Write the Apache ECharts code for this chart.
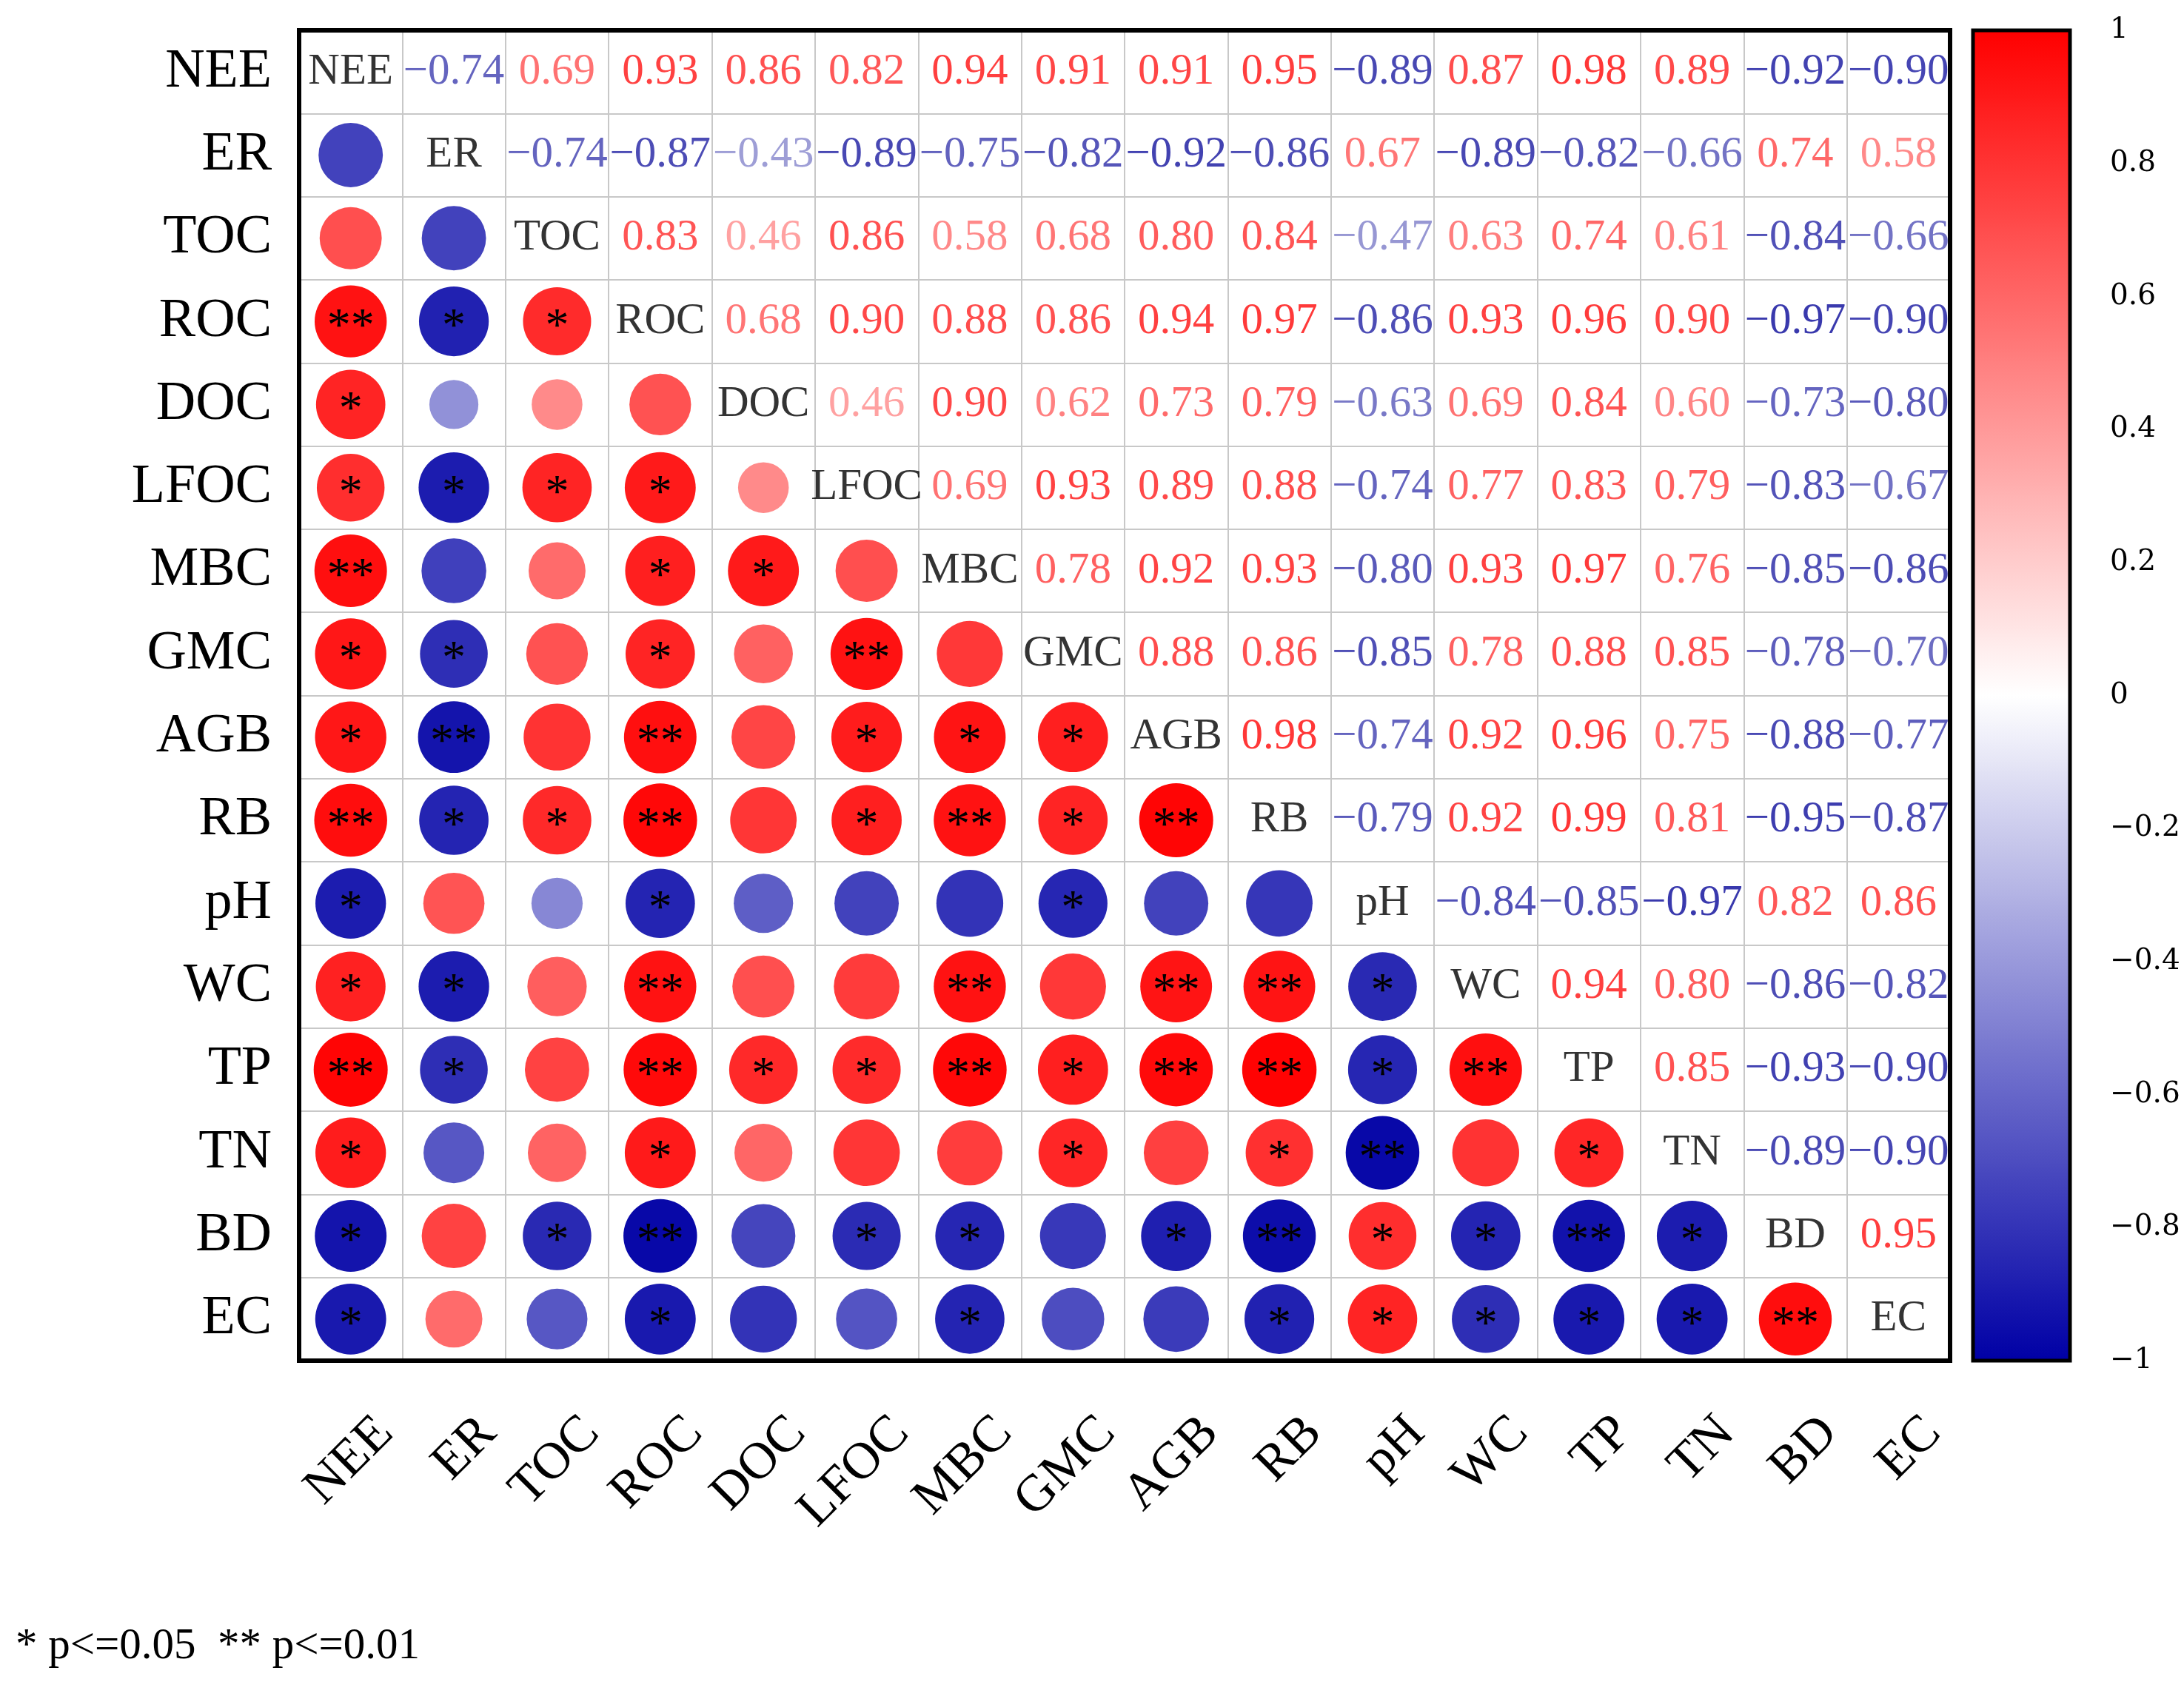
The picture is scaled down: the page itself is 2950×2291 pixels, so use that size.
<!DOCTYPE html>
<html>
<head>
<meta charset="utf-8">
<script src="https://cdn.jsdelivr.net/npm/echarts@6/dist/echarts.min.js"></script>
<style>
html,body{margin:0;padding:0;background:#fff}
#chart{width:2950px;height:2291px}
</style>
</head>
<body>
<div id="chart"></div>
<script>
// variables, in order on both axes
const vars = ['NEE','ER','TOC','ROC','DOC','LFOC','MBC','GMC','AGB','RB','pH','WC','TP','TN','BD','EC']

// upper triangle: each row gives r with the variables to its right
const rNEE  = [-0.74,0.69,0.93,0.86,0.82,0.94,0.91,0.91,0.95,-0.89,0.87,0.98,0.89,-0.92,-0.90]
const rER   = [-0.74,-0.87,-0.43,-0.89,-0.75,-0.82,-0.92,-0.86,0.67,-0.89,-0.82,-0.66,0.74,0.58]
const rTOC  = [0.83,0.46,0.86,0.58,0.68,0.80,0.84,-0.47,0.63,0.74,0.61,-0.84,-0.66]
const rROC  = [0.68,0.90,0.88,0.86,0.94,0.97,-0.86,0.93,0.96,0.90,-0.97,-0.90]
const rDOC  = [0.46,0.90,0.62,0.73,0.79,-0.63,0.69,0.84,0.60,-0.73,-0.80]
const rLFOC = [0.69,0.93,0.89,0.88,-0.74,0.77,0.83,0.79,-0.83,-0.67]
const rMBC  = [0.78,0.92,0.93,-0.80,0.93,0.97,0.76,-0.85,-0.86]
const rGMC  = [0.88,0.86,-0.85,0.78,0.88,0.85,-0.78,-0.70]
const rAGB  = [0.98,-0.74,0.92,0.96,0.75,-0.88,-0.77]
const rRB   = [-0.79,0.92,0.99,0.81,-0.95,-0.87]
const rPH   = [-0.84,-0.85,-0.97,0.82,0.86]
const rWC   = [0.94,0.80,-0.86,-0.82]
const rTP   = [0.85,-0.93,-0.90]
const rTN   = [-0.89,-0.90]
const rBD   = [0.95]
const upper = [rNEE,rER,rTOC,rROC,rDOC,rLFOC,rMBC,rGMC,rAGB,rRB,rPH,rWC,rTP,rTN,rBD]

// lower triangle significance marks, row by row (columns to the left of the diagonal)
const sNEE  = []
const sER   = ['']
const sTOC  = ['','']
const sROC  = ['**','*','*']
const sDOC  = ['*','','','']
const sLFOC = ['*','*','*','*','']
const sMBC  = ['**','','','*','*','']
const sGMC  = ['*','*','','*','','**','']
const sAGB  = ['*','**','','**','','*','*','*']
const sRB   = ['**','*','*','**','','*','**','*','**']
const sPH   = ['*','','','*','','','','*','','']
const sWC   = ['*','*','','**','','','**','','**','**','*']
const sTP   = ['**','*','','**','*','*','**','*','**','**','*','**']
const sTN   = ['*','','','*','','','','*','','*','**','','*']
const sBD   = ['*','','*','**','','*','*','','*','**','*','*','**','*']
const sEC   = ['*','','','*','','','*','','','*','*','*','*','*','**']
const stars = [sNEE,sER,sTOC,sROC,sDOC,sLFOC,sMBC,sGMC,sAGB,sRB,sPH,sWC,sTP,sTN,sBD,sEC]

const cbTicks = [-1,-0.8,-0.6,-0.4,-0.2,0,0.2,0.4,0.6,0.8,1]

const serif = '"Liberation Serif", "Times New Roman", serif'

function rOf(i, j) {
  // i row, j column, i != j
  return i < j ? upper[i][j - i - 1] : upper[j][i - j - 1]
}
function fmt(v) {
  return (v < 0 ? '\u2212' : '') + Math.abs(v).toFixed(2)
}
// text colour on the same white-centred scale as the colour bar
function textColor(v) {
  const a = Math.abs(v)
  const g = Math.round(255 * (1 - a))
  if (v >= 0) return 'rgb(255,' + g + ',' + g + ')'
  const k = Math.round(235 * (1 - a))
  const b = Math.round(245 - 95 * a)
  return 'rgb(' + k + ',' + k + ',' + b + ')'
}

let circles = []
let diag = []
let nums = []
vars.forEach((name, i) => {
  vars.forEach((n2, j) => {
    if (i === j) {
      diag.push([j, i, name])
    } else if (j > i) {
      const v = rOf(i, j)
      nums.push({ value: [j, i, v], label: { color: textColor(v) } })
    } else {
      circles.push([j, i, rOf(i, j), stars[i][j]])
    }
  })
})

const myChart = echarts.init(document.getElementById('chart'))
const option = {
  backgroundColor: '#fff',
  animation: false,
  title: {
    text: '* p<=0.05  ** p<=0.01',
    left: 16,
    top: 2190,
    textStyle: { fontFamily: serif, fontSize: 59, fontWeight: 'normal', color: '#000' }
  },
  grid: [{
    left: 404, top: 41, width: 2230, height: 1797,
    show: true, borderColor: '#000', borderWidth: 6, z: 3
  }, {
    left: 2665, top: 41, width: 131, height: 1797,
    show: true, borderColor: '#000', borderWidth: 5, z: 10
  }],
  visualMap: {
    type: 'continuous',
    min: -1, max: 1,
    seriesIndex: 0,
    dimension: 2,
    calculable: false,
    left: 2665, top: 41,
    padding: 0,
    itemWidth: 131, itemHeight: 1797,
    text: null,
    inRange: { color: ['#0000a5', '#ffffff', '#ff0000'] }
  },
  xAxis: [{
    type: 'category', data: vars, gridIndex: 0,
    axisLine: { show: false }, axisTick: { show: false },
    splitLine: { show: true, interval: 0, lineStyle: { color: '#c8c8c8', width: 2 } },
    axisLabel: {
      interval: 0, rotate: 45, margin: 134, padding: [0, -66, 0, 0],
      fontFamily: serif, fontSize: 70, color: '#000'
    }
  }, {
    type: 'value', gridIndex: 1, min: 0, max: 1, show: false
  }],
  yAxis: [{
    type: 'category', data: vars, gridIndex: 0, inverse: true,
    axisLine: { show: false }, axisTick: { show: false },
    splitLine: { show: true, interval: 0, lineStyle: { color: '#c8c8c8', width: 2 } },
    axisLabel: { interval: 0, margin: 37, fontFamily: serif, fontSize: 74, color: '#000' }
  }, {
    type: 'value', gridIndex: 1, position: 'right',
    min: -1, max: 1, interval: 0.2,
    axisLine: { show: false },
    axisTick: { show: true, length: 35, lineStyle: { color: '#000', width: 3 } },
    splitLine: { show: false },
    axisLabel: {
      margin: 54, fontFamily: 'DejaVu Serif', fontSize: 39, color: '#000',
      formatter: v => {
        const t = Math.round(v * 10) / 10
        return (t < 0 ? '\u2212' : '') + String(Math.abs(t))
      }
    }
  }],
  series: [{
    type: 'scatter',
    xAxisIndex: 0, yAxisIndex: 0,
    data: circles,
    symbol: 'circle',
    symbolSize: v => 101 * Math.sqrt(Math.abs(v[2])),
    itemStyle: { opacity: 1 },
    label: {
      show: true, position: 'inside', offset: [0, 9],
      formatter: p => p.data[3],
      fontFamily: serif, fontSize: 64, color: '#000'
    },
    z: 2
  }, {
    type: 'scatter',
    xAxisIndex: 0, yAxisIndex: 0,
    data: diag,
    symbolSize: 1,
    itemStyle: { color: 'rgba(0,0,0,0)' },
    label: {
      show: true, position: 'inside',
      formatter: p => p.data[2],
      fontFamily: serif, fontSize: 59, color: '#000'
    }
  }, {
    type: 'scatter',
    xAxisIndex: 0, yAxisIndex: 0,
    data: nums,
    symbolSize: 1,
    itemStyle: { color: 'rgba(0,0,0,0)' },
    label: {
      show: true, position: 'inside',
      formatter: p => fmt(p.value[2]),
      fontFamily: serif, fontSize: 59
    }
  }, {
    type: 'scatter',
    xAxisIndex: 1, yAxisIndex: 1,
    data: cbTicks.map(t => [0.5, t]),
    symbolSize: 0,
    silent: true
  }]
}
myChart.setOption(option)
</script>
</body>
</html>
